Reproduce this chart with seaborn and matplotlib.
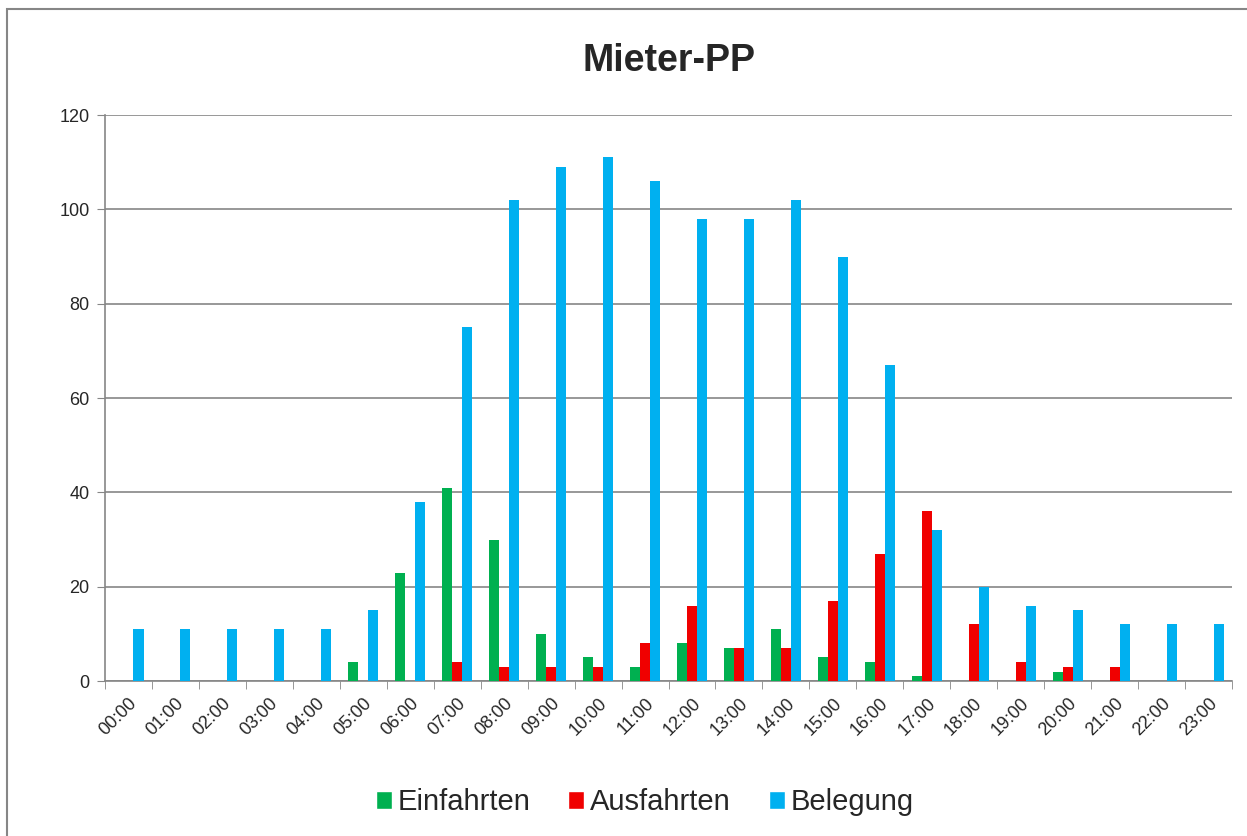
import pandas as pd
import matplotlib.pyplot as plt
import seaborn as sns
import numpy as np
from matplotlib.patches import Rectangle, Patch

hours = [f"{h:02d}:00" for h in range(24)]
einfahrten = [0, 0, 0, 0, 0, 4, 23, 41, 30, 10, 5, 3, 8, 7, 11, 5, 4, 1, 0, 0, 2, 0, 0, 0]
ausfahrten = [0, 0, 0, 0, 0, 0, 0, 4, 3, 3, 3, 8, 16, 7, 7, 17, 27, 36, 12, 4, 3, 3, 0, 0]
belegung = [11, 11, 11, 11, 11, 15, 38, 75, 102, 109, 111, 106, 98, 98, 102, 90,
            67, 32, 20, 16, 15, 12, 12, 12]
series = ["Einfahrten", "Ausfahrten", "Belegung"]
colors = {"Einfahrten": "#00B050", "Ausfahrten": "#F00000", "Belegung": "#00B0F0"}

df = pd.DataFrame({"hour": hours, "Einfahrten": einfahrten,
                   "Ausfahrten": ausfahrten, "Belegung": belegung})
long = df.melt(id_vars="hour", value_vars=series, var_name="serie", value_name="wert")

sns.set_style("white")
plt.rcParams["font.family"] = ["Liberation Sans", "DejaVu Sans"]

fig = plt.figure(figsize=(12.47, 8.36), dpi=100)
ax = fig.add_axes([0.0842, 0.1854, 0.9038, 0.677])

sns.barplot(data=long, x="hour", y="wert", hue="serie", hue_order=series,
            palette=colors, width=0.64, gap=0.0, saturation=1, ax=ax,
            legend=False, linewidth=0, zorder=3)

ax.set_ylim(0, 120)
ax.set_xlim(-0.5, 23.5)
ax.set_yticks(np.arange(0, 121, 20))
ax.yaxis.grid(True, color="#868686", linewidth=1.2, zorder=0)
ax.set_axisbelow(True)
ax.set_xlabel("")
ax.set_ylabel("")
for s in ["top", "right"]:
    ax.spines[s].set_visible(False)
for s in ["left", "bottom"]:
    ax.spines[s].set_color("#868686")
    ax.spines[s].set_linewidth(1.2)

ax.tick_params(axis="y", labelsize=13, length=6, color="#868686", direction="out", left=True, pad=5)
ax.set_xticks(range(24))
ax.set_xticklabels(hours, rotation=45, ha="right", rotation_mode="anchor", fontsize=13)
ax.tick_params(axis="x", length=0, pad=10)
ax.set_xticks(np.arange(-0.5, 24, 1), minor=True)
ax.tick_params(axis="x", which="minor", length=6, color="#868686", bottom=True)

ax.set_title("Mieter-PP", fontsize=27, fontweight="bold", pad=32)

handles = [Patch(facecolor=colors[s], label=s) for s in series]
fig.legend(handles=handles, loc="lower center", bbox_to_anchor=(0.517, -0.008),
           ncol=3, frameon=False, fontsize=21, handlelength=0.55, handleheight=0.55,
           handletextpad=0.2, columnspacing=1.3)

fig.patches.append(Rectangle((0.006, -0.02), 1.1, 1.0095, transform=fig.transFigure,
                             fill=False, edgecolor="#868686", linewidth=1.5))

fig.savefig("out.png", dpi=100)
